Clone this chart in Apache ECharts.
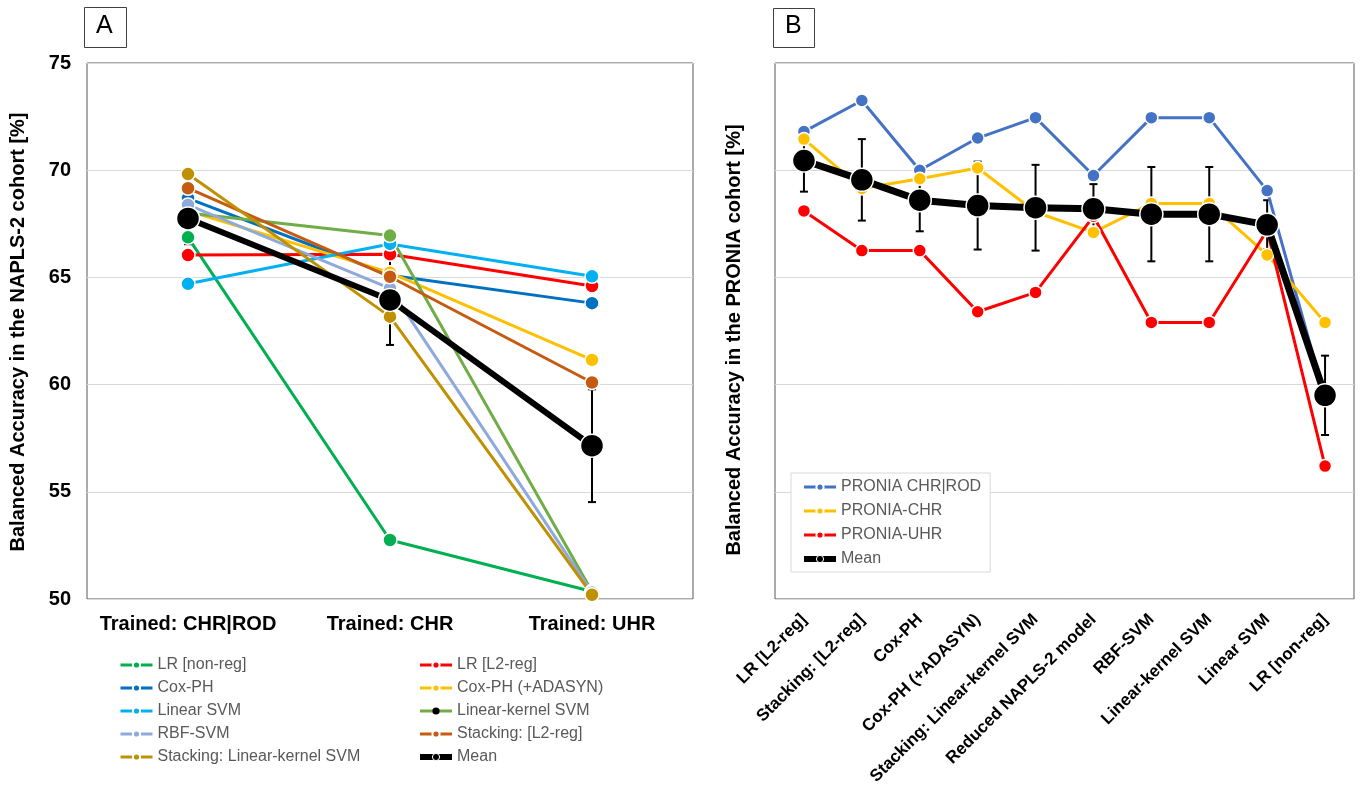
<!DOCTYPE html>
<html>
<head>
<meta charset="utf-8">
<script src="https://cdn.jsdelivr.net/npm/echarts@6/dist/echarts.min.js"></script>
<style>
  html, body { margin: 0; padding: 0; background: #fff; }
  #chart { width: 1360px; height: 792px; }
</style>
</head>
<body>
<div id="chart"></div>
<script>
// panel A: NAPLS-2 cohort
var catsA = ['Trained: CHR|ROD', 'Trained: CHR', 'Trained: UHR']
var lrNonReg = [66.87, 52.75, 50.35]
var lrL2 = [66.04, 66.08, 64.6]
var coxPH = [68.69, 65.1, 63.8]
var coxAdasyn = [68.1, 65.22, 61.15]
var linearSvm = [64.7, 66.56, 65.05]
var linearKernelSvm = [68.0, 66.95, 50.35]
var rbfSvm = [68.38, 64.49, 50.3]
var stackL2 = [69.16, 65.03, 60.1]
var stackLin = [69.82, 63.17, 50.2]
var meanA = [67.75, 63.95, 57.15]
var errA = [1.2, 2.1, 2.63]
var ticksA = [50, 55, 60, 65, 70, 75]

// panel B: PRONIA cohort
var catsB = ['LR [L2-reg]', 'Stacking: [L2-reg]', 'Cox-PH', 'Cox-PH (+ADASYN)', 'Stacking: Linear-kernel SVM',
    'Reduced NAPLS-2 model', 'RBF-SVM', 'Linear-kernel SVM', 'Linear SVM', 'LR [non-reg]']
var proniaAll = [71.8, 73.25, 70.0, 71.5, 72.45, 69.75, 72.45, 72.45, 69.05, 59.4]
var proniaChr = [71.45, 69.15, 69.6, 70.1, 68.05, 67.1, 68.45, 68.45, 66.05, 62.9]
var proniaUhr = [68.1, 66.25, 66.25, 63.4, 64.3, 67.85, 62.9, 62.9, 67.2, 56.2]
var meanB = [70.45, 69.55, 68.6, 68.35, 68.25, 68.2, 67.95, 67.95, 67.45, 59.5]
var errB = [1.45, 1.9, 1.45, 2.05, 2.0, 1.15, 2.2, 2.2, 1.15, 1.85]

var chart = echarts.init(document.getElementById('chart'))
var sans = '"Liberation Sans", Arial, sans-serif'

function lineSeries(name, data, color, axis, opts) {
    opts = opts || {}
    return {
        name: name,
        type: 'line',
        xAxisIndex: axis,
        yAxisIndex: axis,
        data: data,
        symbol: 'circle',
        symbolSize: opts.size || 14,
        z: opts.z || 2,
        lineStyle: { color: color, width: opts.width || 3 },
        itemStyle: { color: color, borderColor: '#fff', borderWidth: 1.5 },
        emphasis: { disabled: true },
        animation: false
    }
}

// vertical error bars with small caps
function errorSeries(mean, err, axis) {
    return {
        type: 'custom',
        xAxisIndex: axis,
        yAxisIndex: axis,
        z: 1,
        silent: true,
        data: mean.map(function (m, i) { return [i, m - err[i], m + err[i]] }),
        renderItem: function (params, api) {
            var lo = api.coord([api.value(0), api.value(1)])
            var hi = api.coord([api.value(0), api.value(2)])
            var style = { stroke: '#000', lineWidth: 2 }
            return {
                type: 'group',
                children: [
                    { type: 'line', shape: { x1: lo[0], y1: lo[1], x2: hi[0], y2: hi[1] }, style: style },
                    { type: 'line', shape: { x1: lo[0] - 4, y1: lo[1], x2: lo[0] + 4, y2: lo[1] }, style: style },
                    { type: 'line', shape: { x1: hi[0] - 4, y1: hi[1], x2: hi[0] + 4, y2: hi[1] }, style: style }
                ]
            }
        },
        animation: false
    }
}

var yBase = {
    type: 'value',
    min: ticksA[0],
    max: ticksA[ticksA.length - 1],
    interval: 5,
    axisLine: { show: false },
    axisTick: { show: false },
    splitLine: { show: true, lineStyle: { color: '#d9d9d9', width: 1 } }
}

var legendText = { color: '#595959', fontSize: 16, fontFamily: sans }
var meanIcon = { lineStyle: { width: 6, color: '#000' }, itemStyle: { color: '#000', borderColor: '#fff', borderWidth: 1 } }

chart.setOption({
    backgroundColor: '#fff',
    grid: [
        { left: 87, top: 63, width: 606, height: 536, show: true, borderColor: '#595959', borderWidth: 1 },
        { left: 775, top: 63, width: 579, height: 536, show: true, borderColor: '#595959', borderWidth: 1 }
    ],
    xAxis: [
        {
            type: 'category', gridIndex: 0, data: catsA,
            axisLine: { show: false }, axisTick: { show: false },
            axisLabel: { color: '#000', fontSize: 20, fontWeight: 'bold', fontFamily: sans, margin: 15, interval: 0 }
        },
        {
            type: 'category', gridIndex: 1, data: catsB,
            axisLine: { show: false }, axisTick: { show: false },
            axisLabel: { color: '#000', fontSize: 17, fontWeight: 'bold', fontFamily: sans, rotate: 45, interval: 0, margin: 18 }
        }
    ],
    yAxis: [
        Object.assign({}, yBase, {
            gridIndex: 0,
            axisLabel: { color: '#000', fontSize: 20, fontWeight: 'bold', fontFamily: sans, margin: 16 }
        }),
        Object.assign({}, yBase, { gridIndex: 1, axisLabel: { show: false } })
    ],
    legend: [
        {
            left: 114, top: 652, orient: 'vertical', itemGap: 7, itemWidth: 32, itemHeight: 9,
            textStyle: legendText, selectedMode: false, lineStyle: { width: 3 },
            data: ['LR [non-reg]', 'Cox-PH', 'Linear SVM', 'RBF-SVM', 'Stacking: Linear-kernel SVM']
        },
        {
            left: 412, top: 652, orient: 'vertical', itemGap: 7, itemWidth: 32, itemHeight: 9,
            textStyle: legendText, selectedMode: false, lineStyle: { width: 3 },
            data: ['LR [L2-reg]', 'Cox-PH (+ADASYN)',
                { name: 'Linear-kernel SVM', itemStyle: { color: '#000', borderWidth: 0 } },
                'Stacking: [L2-reg]', Object.assign({ name: 'Mean' }, meanIcon)]
        },
        {
            left: 791, top: 473, orient: 'vertical', itemGap: 8, itemWidth: 32, itemHeight: 9,
            padding: [6, 9, 5, 10], borderColor: '#d9d9d9', borderWidth: 1, backgroundColor: '#fff',
            textStyle: legendText, selectedMode: false, lineStyle: { width: 3 },
            data: ['PRONIA CHR|ROD', 'PRONIA-CHR', 'PRONIA-UHR', Object.assign({ name: 'Mean ' }, meanIcon)]
        }
    ],
    graphic: [
        { type: 'rect', left: 84, top: 7, shape: { width: 42, height: 40 }, style: { fill: '#fff', stroke: '#404040', lineWidth: 1 } },
        { type: 'text', left: 96, top: 14, style: { text: 'A', fontSize: 25, fontFamily: sans, fill: '#000' } },
        { type: 'rect', left: 773, top: 8, shape: { width: 41, height: 39 }, style: { fill: '#fff', stroke: '#404040', lineWidth: 1 } },
        { type: 'text', left: 785, top: 14, style: { text: 'B', fontSize: 25, fontFamily: sans, fill: '#000' } },
        {
            type: 'text', x: 18, y: 332, rotation: Math.PI / 2,
            style: { text: 'Balanced Accuracy in the NAPLS-2 cohort [%]', fontSize: 20, fontWeight: 'bold', fontFamily: sans,
                fill: '#000', align: 'center', verticalAlign: 'middle' }
        },
        {
            type: 'text', x: 734, y: 340, rotation: Math.PI / 2,
            style: { text: 'Balanced Accuracy in the PRONIA cohort [%]', fontSize: 20, fontWeight: 'bold', fontFamily: sans,
                fill: '#000', align: 'center', verticalAlign: 'middle' }
        }
    ],
    series: [
        errorSeries(meanA, errA, 0),
        lineSeries('LR [non-reg]', lrNonReg, '#00B050', 0),
        lineSeries('LR [L2-reg]', lrL2, '#FF0000', 0),
        lineSeries('Cox-PH', coxPH, '#0070C0', 0),
        lineSeries('Cox-PH (+ADASYN)', coxAdasyn, '#FFC000', 0),
        lineSeries('Linear SVM', linearSvm, '#00B0F0', 0),
        lineSeries('Linear-kernel SVM', linearKernelSvm, '#70AD47', 0),
        lineSeries('RBF-SVM', rbfSvm, '#8EA9DB', 0),
        lineSeries('Stacking: [L2-reg]', stackL2, '#C55A11', 0),
        lineSeries('Stacking: Linear-kernel SVM', stackLin, '#BF9000', 0),
        lineSeries('Mean', meanA, '#000', 0, { size: 23, width: 6, z: 3 }),

        errorSeries(meanB, errB, 1),
        lineSeries('PRONIA CHR|ROD', proniaAll, '#4472C4', 1, { size: 13 }),
        lineSeries('PRONIA-CHR', proniaChr, '#FFC000', 1, { size: 13 }),
        lineSeries('PRONIA-UHR', proniaUhr, '#FF0000', 1, { size: 13 }),
        lineSeries('Mean ', meanB, '#000', 1, { size: 23, width: 7, z: 3 })
    ]
})
</script>
</body>
</html>
